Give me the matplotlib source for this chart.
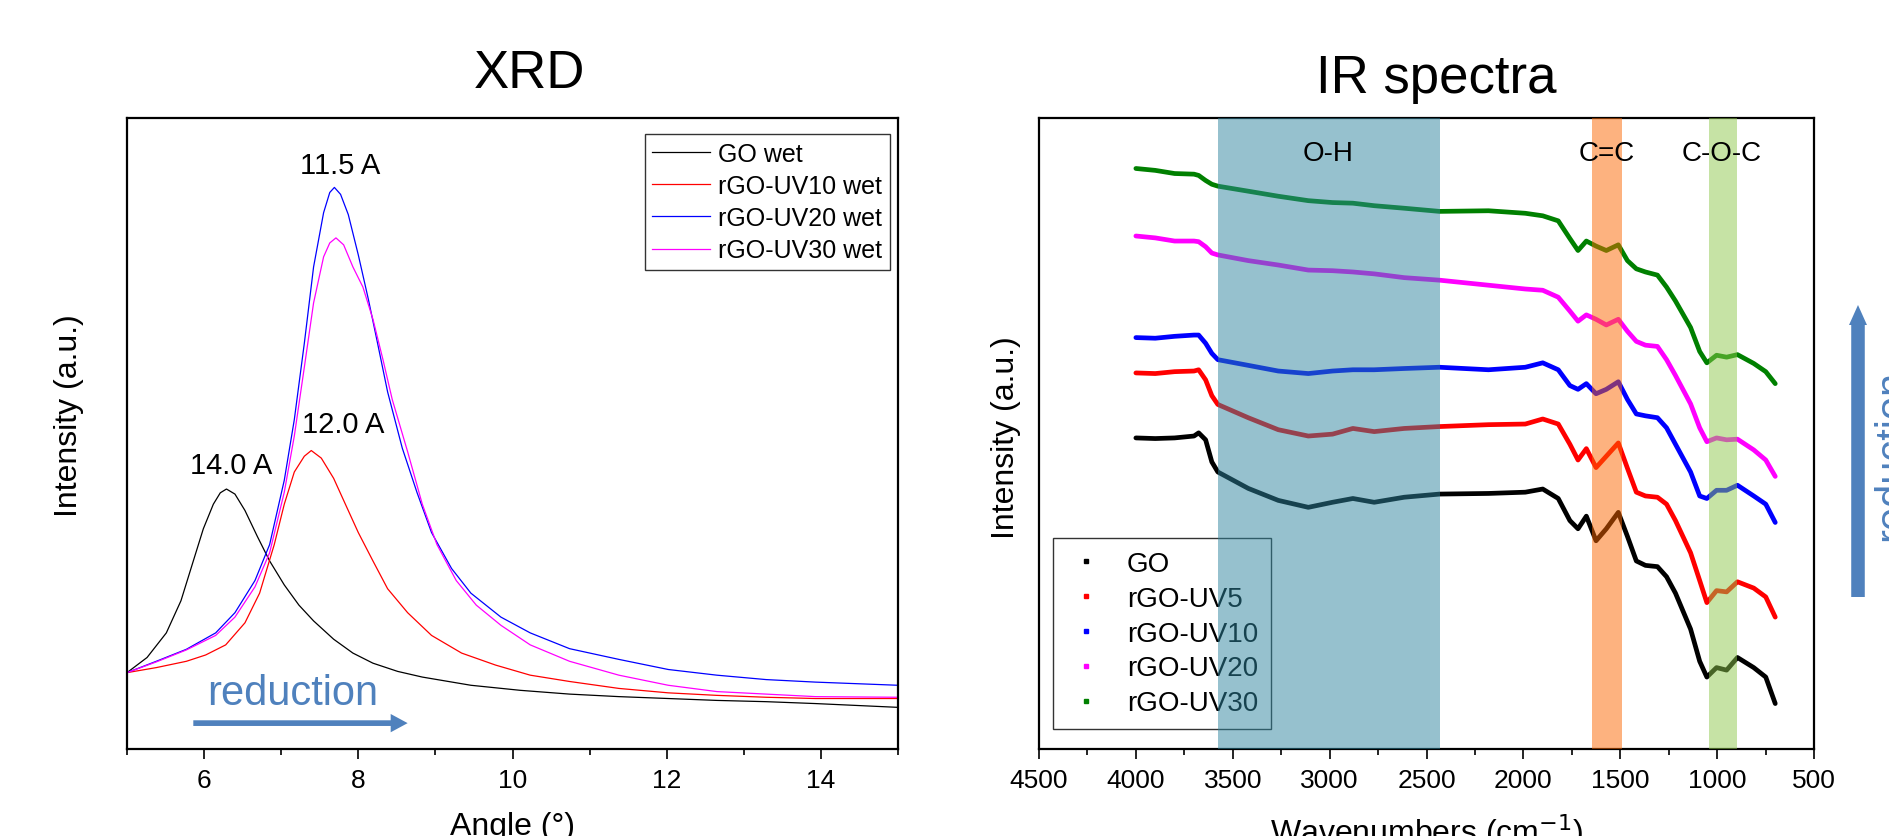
import matplotlib
matplotlib.use("Agg")
import matplotlib.pyplot as plt
from matplotlib.lines import Line2D
from matplotlib.patches import FancyArrow
from matplotlib.ticker import MultipleLocator

plt.rcParams['font.family'] = ['Liberation Sans', 'DejaVu Sans']

# ---------------- XRD data (angle in degrees, intensity a.u.) ----------------
xrd_labels = ['GO wet', 'rGO-UV10 wet', 'rGO-UV20 wet', 'rGO-UV30 wet']
xrd_colors = ['black', 'red', 'blue', 'magenta']

go_wet_x = [5.0, 5.26, 5.51, 5.70, 5.86, 5.99, 6.12, 6.21, 6.29, 6.40, 6.53,
            6.69, 6.85, 7.04, 7.23, 7.42, 7.68, 7.93, 8.19, 8.51, 8.83, 9.46,
            10.10, 10.74, 11.38, 12.02, 12.65, 13.29, 13.93, 15.0]
go_wet_y = [12.1, 14.5, 18.4, 23.5, 29.8, 34.9, 38.8, 40.6, 41.2, 40.4, 37.8,
            33.7, 29.8, 26.0, 22.8, 20.3, 17.4, 15.2, 13.6, 12.3, 11.4, 10.1,
            9.3, 8.7, 8.3, 8.0, 7.7, 7.5, 7.2, 6.6]

uv10_wet_x = [5.0, 5.38, 5.77, 6.02, 6.28, 6.53, 6.72, 6.91, 7.04, 7.17, 7.30,
              7.39, 7.52, 7.68, 7.81, 8.00, 8.19, 8.38, 8.64, 8.95, 9.34, 9.78,
              10.23, 10.74, 11.38, 12.02, 12.65, 13.29, 13.93, 15.0]
uv10_wet_y = [12.1, 12.9, 13.9, 14.9, 16.5, 20.0, 24.7, 32.4, 38.8, 43.9, 46.4,
              47.3, 46.1, 42.9, 39.4, 34.3, 29.8, 25.4, 21.6, 18.0, 15.2, 13.3,
              11.7, 10.7, 9.6, 8.9, 8.5, 8.2, 8.0, 8.0]

uv20_wet_x = [5.0, 5.38, 5.77, 6.15, 6.40, 6.66, 6.85, 7.04, 7.17, 7.30, 7.42,
              7.55, 7.63, 7.69, 7.77, 7.87, 8.00, 8.13, 8.25, 8.38, 8.57, 8.76,
              8.95, 9.21, 9.46, 9.85, 10.23, 10.74, 11.38, 12.02, 12.65, 13.29,
              13.93, 15.0]
uv20_wet_y = [12.1, 13.9, 15.8, 18.4, 21.6, 26.7, 32.4, 42.6, 52.2, 64.3, 76.4,
              85.0, 88.2, 89.0, 87.9, 84.7, 78.3, 71.3, 64.3, 56.6, 47.7, 40.7,
              34.3, 28.6, 24.7, 20.9, 18.4, 15.9, 14.2, 12.6, 11.7, 11.0,
              10.6, 10.1]

uv30_wet_x = [5.0, 5.38, 5.77, 6.15, 6.40, 6.66, 6.85, 7.04, 7.17, 7.30, 7.42,
              7.55, 7.63, 7.71, 7.81, 7.93, 8.06, 8.19, 8.32, 8.44, 8.64, 8.83,
              9.02, 9.27, 9.53, 9.85, 10.23, 10.74, 11.38, 12.02, 12.65, 13.29,
              13.93, 15.0]
uv30_wet_y = [12.1, 13.8, 15.7, 18.0, 20.9, 25.7, 31.1, 40.7, 49.6, 60.5, 70.7,
              78.0, 80.2, 81.0, 79.9, 76.4, 73.2, 68.1, 61.7, 55.4, 47.1, 38.8,
              32.4, 26.7, 22.8, 19.6, 16.5, 13.9, 11.7, 10.1, 9.1, 8.7,
              8.3, 8.2]

xrd_peaks = ['11.5 A', '12.0 A', '14.0 A']
xrd_peak_x = [7.76, 7.81, 6.35]
xrd_peak_y = [92.5, 51.5, 45.0]

# ---------------- IR data (wavenumber cm-1, intensity a.u.) ----------------
ir_labels = ['GO', 'rGO-UV5', 'rGO-UV10', 'rGO-UV20', 'rGO-UV30']
ir_colors = ['black', 'red', 'blue', 'magenta', 'green']

wavenumber = [4000, 3900, 3800, 3700, 3676, 3640, 3608, 3577, 3420, 3265, 3110,
              2985, 2880, 2770, 2615, 2433, 2180, 1990, 1900, 1820, 1760, 1718,
              1675, 1625, 1572, 1510, 1463, 1417, 1370, 1308, 1261, 1215, 1137,
              1090, 1053, 1003, 951, 895, 811, 749, 700]

ir_go = [49.3, 49.2, 49.3, 49.6, 50.1, 49.0, 45.5, 43.9, 41.3, 39.4, 38.3,
         39.1, 39.7, 39.1, 39.9, 40.4, 40.5, 40.7, 41.2, 39.7, 36.2, 34.9,
         36.9, 33.0, 34.9, 37.5, 33.7, 29.8, 29.1, 28.9, 27.3, 24.7, 19.0,
         13.9, 11.4, 12.9, 12.5, 14.5, 12.9, 11.4, 7.2]
ir_uv5 = [59.6, 59.5, 59.8, 59.9, 60.1, 58.5, 56.0, 54.6, 52.5, 50.6, 49.6,
          49.9, 50.8, 50.3, 50.8, 51.1, 51.4, 51.5, 52.3, 51.5, 48.3, 45.8,
          47.6, 44.6, 46.4, 48.5, 44.5, 40.7, 40.1, 39.9, 38.8, 36.2, 31.1,
          26.7, 23.2, 25.1, 24.9, 26.5, 25.5, 24.1, 20.9]
ir_uv10 = [65.2, 65.1, 65.4, 65.6, 65.6, 64.3, 62.7, 61.7, 60.8, 59.9, 59.5,
           59.9, 60.1, 60.1, 60.3, 60.5, 60.1, 60.5, 61.2, 60.1, 57.6, 57.0,
           57.9, 56.3, 57.0, 58.2, 55.4, 53.1, 52.8, 52.5, 50.9, 48.3, 43.9,
           40.1, 39.7, 41.0, 41.0, 41.8, 40.1, 38.8, 35.9]
ir_uv20 = [81.3, 81.0, 80.5, 80.5, 80.4, 79.6, 78.6, 78.3, 77.4, 76.7, 75.9,
           75.8, 75.6, 75.3, 74.7, 74.3, 73.5, 72.9, 72.7, 71.6, 69.4, 67.8,
           68.8, 68.1, 67.2, 68.1, 66.2, 64.6, 64.0, 63.8, 61.7, 59.2, 54.7,
           50.9, 48.7, 49.3, 49.0, 49.1, 47.4, 45.8, 43.2]
ir_uv30 = [92.0, 91.7, 91.2, 91.1, 90.9, 90.1, 89.5, 89.2, 88.4, 87.6, 86.9,
           86.6, 86.5, 86.1, 85.7, 85.2, 85.3, 84.9, 84.5, 83.7, 80.9, 79.0,
           80.5, 79.7, 79.0, 79.9, 77.4, 76.1, 75.6, 75.1, 73.2, 71.0, 66.8,
           63.0, 61.2, 62.4, 62.1, 62.5, 61.1, 59.8, 57.9]

band_names = ['O-H', 'C=C', 'C-O-C']
band_lo = [2430, 1490, 898]
band_hi = [3575, 1645, 1040]
band_label_x = [3010, 1570, 975]
band_colors = [(0.18, 0.52, 0.62), (0.99, 0.40, 0.0), (0.56, 0.79, 0.30)]

arrow_blue = '#4F81BD'


def style_axes(ax):
    for s in ax.spines.values():
        s.set_linewidth(1.6)
    ax.tick_params(axis='x', which='major', direction='out', length=7,
                   width=1.2, labelsize=19, pad=7)
    ax.tick_params(axis='x', which='minor', direction='out', length=4, width=1.2)
    ax.set_yticks([])


fig = plt.figure(figsize=(18.9, 8.37), dpi=100)

# ---------------- XRD ----------------
ax1 = fig.add_axes([127 / 1890, 1 - 750 / 837, 771 / 1890, 631 / 837])
xrd_x = [go_wet_x, uv10_wet_x, uv20_wet_x, uv30_wet_x]
xrd_y = [go_wet_y, uv10_wet_y, uv20_wet_y, uv30_wet_y]
for xs, ys, c, lab in zip(xrd_x, xrd_y, xrd_colors, xrd_labels):
    ax1.plot(xs, ys, color=c, lw=0.9, label=lab)
ax1.set_xlim(5, 15)
ax1.set_ylim(0, 100)
ax1.xaxis.set_major_locator(MultipleLocator(2))
ax1.xaxis.set_minor_locator(MultipleLocator(1))
style_axes(ax1)
for t, x, y in zip(xrd_peaks, xrd_peak_x, xrd_peak_y):
    ax1.text(x, y, t, ha='center', va='center', fontsize=21)
leg1 = ax1.legend(loc='upper right', bbox_to_anchor=(0.9896, 0.9746),
                  borderaxespad=0, fontsize=18, fancybox=False,
                  edgecolor='#333333', framealpha=1, handlelength=2.3,
                  handletextpad=0.35, labelspacing=0.33, borderpad=0.3)
leg1.get_frame().set_linewidth(1.0)
ax1.text(7.15, 7.2, 'reduction', color=arrow_blue, fontsize=30,
         ha='center', va='baseline')
ax1.add_patch(FancyArrow(5.86, 4.1, 2.78, 0, width=0.9, head_width=2.9,
                         head_length=0.22, length_includes_head=True,
                         color=arrow_blue, lw=0))
fig.text(69 / 1890, 1 - 416 / 837, 'Intensity (a.u.)', rotation=90,
         ha='center', va='center', fontsize=23)
fig.text(512 / 1890, 1 - 812 / 837, 'Angle (°)', ha='center', va='top',
         fontsize=23)
fig.text(530 / 1890, 1 - 88 / 837, 'XRD', ha='center', va='baseline',
         fontsize=38)

# ---------------- IR ----------------
ax2 = fig.add_axes([1039 / 1890, 1 - 750 / 837, 775 / 1890, 631 / 837])
ir_series = [ir_go, ir_uv5, ir_uv10, ir_uv20, ir_uv30]
for ys, c in zip(ir_series, ir_colors):
    ax2.plot(wavenumber, ys, color=c, lw=3.4, solid_capstyle='round',
             solid_joinstyle='round', zorder=3)
for lo, hi, bc in zip(band_lo, band_hi, band_colors):
    ax2.axvspan(lo, hi, color=bc, alpha=0.5, lw=0, zorder=6)
for name, x in zip(band_names, band_label_x):
    ax2.text(x, 94.5, name, ha='center', va='center', fontsize=20, zorder=7)
ax2.set_xlim(4500, 500)
ax2.set_ylim(0, 100)
ax2.xaxis.set_major_locator(MultipleLocator(500))
ax2.xaxis.set_minor_locator(MultipleLocator(250))
style_axes(ax2)
handles = [Line2D([], [], ls='none', marker='s', ms=2.5, color=c)
           for c in ir_colors]
leg2 = ax2.legend(handles, ir_labels, loc='lower left',
                  bbox_to_anchor=(0.018, 0.032), borderaxespad=0, fontsize=20,
                  fancybox=False, edgecolor='#333333', framealpha=1,
                  handlelength=1.5, handletextpad=0.72, labelspacing=0.32,
                  borderpad=0.45)
leg2.set_zorder(5)
leg2.get_frame().set_linewidth(1.0)
fig.text(1006 / 1890, 1 - 438 / 837, 'Intensity (a.u.)', rotation=90,
         ha='center', va='center', fontsize=23)
fig.text(1427 / 1890, 1 - 812 / 837, 'Wavenumbers (cm$^{-1}$)', ha='center',
         va='top', fontsize=23)
fig.text(1436 / 1890, 1 - 93 / 837, 'IR spectra', ha='center', va='baseline',
         fontsize=38)

# right hand "reduction" arrow, partly outside the canvas
fig.patches.append(FancyArrow(1858 / 1890, 1 - 598 / 837, 0, 292 / 837,
                              width=6 / 837, head_width=0.0095,
                              head_length=20 / 837, length_includes_head=True,
                              color=arrow_blue, lw=0,
                              transform=fig.transFigure, figure=fig))
fig.text(1872 / 1890, 1 - 455 / 837, 'reduction', rotation=90,
         color=arrow_blue, fontsize=30, ha='left', va='center')

fig.savefig('out.png', dpi=100)
